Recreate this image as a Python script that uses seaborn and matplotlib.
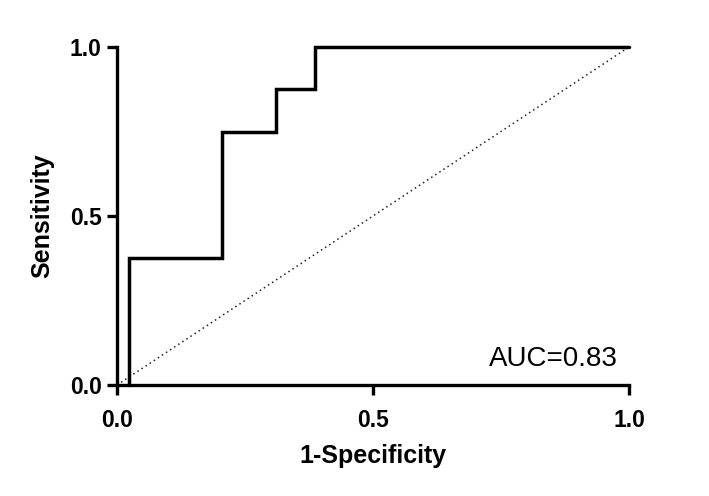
import matplotlib
matplotlib.use("Agg")
import matplotlib.pyplot as plt
import seaborn as sns
import pandas as pd

# ROC step curve corners (1-Specificity, Sensitivity)
fpr = [0.023, 0.023, 0.205, 0.205, 0.31, 0.31, 0.386, 0.386, 1.0]
tpr = [0.0, 0.375, 0.375, 0.75, 0.75, 0.875, 0.875, 1.0, 1.0]
ref_x = [0.0, 1.0]
ref_y = [0.0, 1.0]
ticks = [0.0, 0.5, 1.0]
tick_labels = ["0.0", "0.5", "1.0"]
auc_text = "AUC=0.83"

sns.set_theme(style="ticks")
plt.rcParams['font.family'] = ['Liberation Sans', 'DejaVu Sans']

fig = plt.figure(figsize=(7.09, 4.96), dpi=100)
ax = fig.add_axes([117/709, 1-385/496, 512/709, 338/496])

roc = pd.DataFrame({"fpr": fpr, "tpr": tpr})
ref = pd.DataFrame({"x": ref_x, "y": ref_y})

sns.lineplot(data=ref, x="x", y="y", ax=ax, color="#222222", linestyle=(0, (1, 2.2)),
             linewidth=1.1, sort=False, estimator=None, clip_on=False)
sns.lineplot(data=roc, x="fpr", y="tpr", ax=ax, color="black", linewidth=2.5,
             sort=False, estimator=None, clip_on=False, solid_joinstyle="miter")

ax.set_xlim(0, 1)
ax.set_ylim(0, 1)
ax.set_xticks(ticks)
ax.set_xticklabels(tick_labels)
ax.set_yticks(ticks)
ax.set_yticklabels(tick_labels)

for s in ["top", "right"]:
    ax.spines[s].set_visible(False)
for s in ["left", "bottom"]:
    ax.spines[s].set_linewidth(2.4)
    ax.spines[s].set_color("black")

ax.tick_params(axis="both", which="major", direction="out", length=7, width=2.4,
               color="black", labelsize=16.5, labelcolor="black")
ax.tick_params(axis="x", pad=10)
ax.tick_params(axis="y", pad=4)
for lab in ax.get_xticklabels() + ax.get_yticklabels():
    lab.set_fontweight("bold")

ax.set_xlabel("1-Specificity", fontsize=18, fontweight="bold", labelpad=9, color="black")
ax.set_ylabel("Sensitivity", fontsize=18, fontweight="bold", labelpad=11, color="black")

ax.text(0.978, 0.056, auc_text, ha="right", va="baseline", fontsize=20, color="black",
        transform=ax.transData)

fig.savefig("out.png", dpi=100)
